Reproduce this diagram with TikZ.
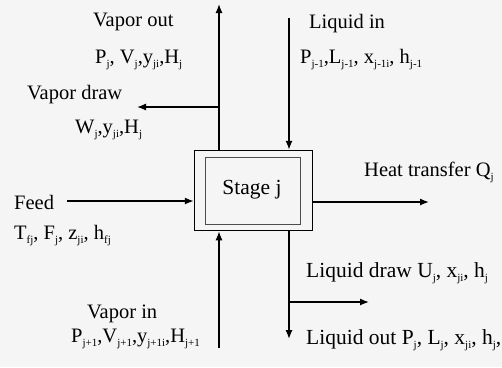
\documentclass[tikz,border=0pt]{standalone}
\usepackage{fontspec}
\setmainfont{Liberation Serif}
\usetikzlibrary{arrows.meta}
\newcommand{\sbs}[1]{\raisebox{-4pt}{\fontsize{11}{11}\selectfont #1}}
\begin{document}
\begin{tikzpicture}[x=1pt,y=-1pt,
  lbl/.style={anchor=west,inner sep=0pt,font=\fontsize{20.5}{24}\selectfont},
  lqd/.style={anchor=west,inner sep=0pt,font=\fontsize{21.5}{24}\selectfont},
  flow/.style={line width=1.3pt,-{Latex[length=9pt,width=7pt]}},
  plain/.style={line width=1.3pt}]
\fill[black!4] (0,0) rectangle (502,367);
\useasboundingbox (0,0) rectangle (502,367);
% stage box
\node[draw,line width=1.5pt,minimum width=118pt,minimum height=80pt,inner sep=0pt] (box) at (253.5,190.5) {};
\node[draw,black!70,line width=0.8pt,minimum width=95pt,minimum height=67pt,inner sep=0pt] (inner) at (252.5,190.5) {};
\node[inner sep=0pt,font=\fontsize{21.5}{24}\selectfont] (stage) at (252,190) {Stage j};
% labels
\node[lbl] (vout) at (93,22) {Vapor out};
\node[lbl] (voutv) at (95,60) {P\sbs{j}, V\sbs{j},y\sbs{ji},H\sbs{j}};
\node[lbl] (vdraw) at (27,95) {Vapor draw};
\node[lbl] (vdrawv) at (75,130) {W\sbs{j},y\sbs{ji},H\sbs{j}};
\node[lbl] (lin) at (309,24) {Liquid in};
\node[lbl] (linv) at (300,60) {P\sbs{j-1},L\sbs{j-1}, x\sbs{j-1i}, h\sbs{j-1}};
\node[lbl] (heat) at (364,172) {Heat transfer Q\sbs{j}};
\node[lbl] (feed) at (14,202) {Feed};
\node[lbl] (feedv) at (14,236) {T\sbs{fj}, F\sbs{j}, z\sbs{ji}, h\sbs{fj}};
\node[lqd] (ldraw) at (306,273) {Liquid draw U\sbs{j}, x\sbs{ji}, h\sbs{j}};
\node[lbl] (vin) at (87,314) {Vapor in};
\node[lbl] (vinv) at (71,339) {P\sbs{j+1},V\sbs{j+1},y\sbs{j+1i},H\sbs{j+1}};
\node[lqd] (lout) at (306,340) {Liquid out P\sbs{j}, L\sbs{j}, x\sbs{ji}, h\sbs{j},};
% coordinates
\coordinate (vtop) at (219,4);
\coordinate (vd) at (219,107);
\coordinate (vdend) at (137,107);
\coordinate (ltop) at (289,18);
\coordinate (heatend) at (429,202);
\coordinate (feedstart) at (67,201);
\coordinate (vbot) at (219,348);
\coordinate (lbot) at (289,339);
\coordinate (ld) at (289,302);
\coordinate (ldend) at (369,302);
% connectors
\draw[flow] (box.north -| vtop) -- (vtop);
\draw[flow] (vd) -- (vdend);
\draw[flow] (ltop) -- (box.north -| ltop);
\draw[flow] (box.east |- heatend) -- (heatend);
\draw[flow] (feedstart) -- (box.west |- feedstart);
\draw[flow] (vbot) -- (box.south -| vbot);
\draw[flow] (box.south -| lbot) -- (lbot);
\draw[flow] (ld) -- (ldend);
\end{tikzpicture}
\end{document}
